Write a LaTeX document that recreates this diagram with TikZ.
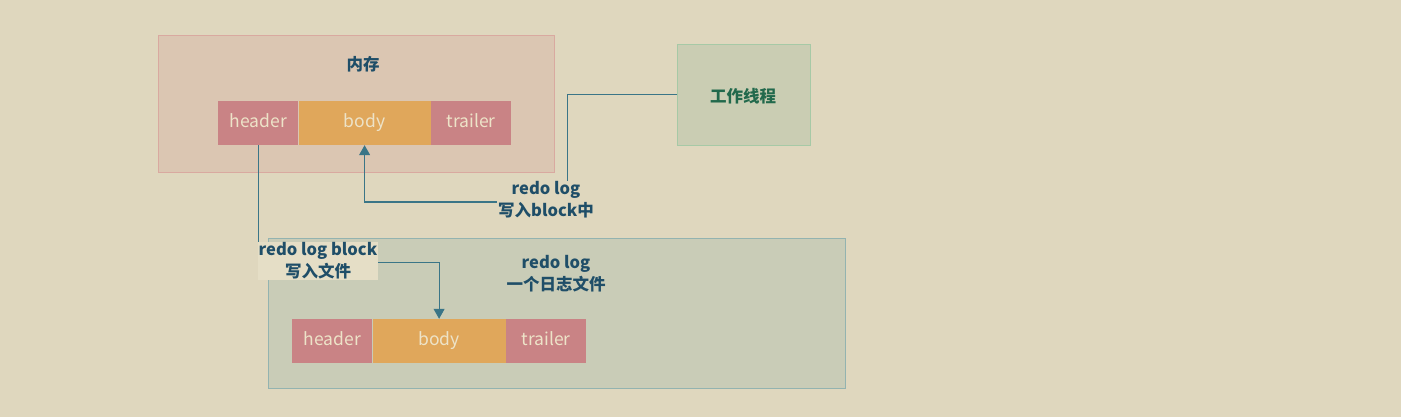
\documentclass[tikz,border=0pt]{standalone}
\usepackage{fontspec}
\setmainfont{Noto Sans CJK SC}
\usetikzlibrary{positioning,arrows.meta}
\definecolor{paper}{HTML}{DFD7BE}
\definecolor{paperlight}{HTML}{E5DEC6}
\definecolor{memfill}{HTML}{DBC6B2}
\definecolor{memedge}{HTML}{D9A9A0}
\definecolor{headfill}{HTML}{C98385}
\definecolor{bodyfill}{HTML}{E0A75B}
\definecolor{parttext}{HTML}{EDE3C8}
\definecolor{threadfill}{HTML}{CACDB3}
\definecolor{threadedge}{HTML}{A6C9A6}
\definecolor{threadtext}{HTML}{22694C}
\definecolor{filefill}{HTML}{C9CCB7}
\definecolor{fileedge}{HTML}{93B3B0}
\definecolor{inkblue}{HTML}{1F4E68}
\definecolor{wire}{HTML}{3A7587}
\begin{document}
\begin{tikzpicture}[x=1pt,y=-1pt,
    region/.style ={draw, line width=1pt, anchor=north west, inner sep=0pt},
    part/.style ={minimum width=80pt, minimum height=44pt, inner sep=0pt,
                  text height=12pt, text depth=3pt,
                  anchor=west, text=parttext, font=\fontsize{17.5}{20}\selectfont},
    caption/.style ={text=inkblue, align=center, inner sep=1pt,
                  font=\bfseries\fontsize{16.5}{22}\selectfont},
    link/.style ={draw=wire, line width=1pt, -{Triangle[width=11pt,length=10pt]}},
    wireline/.style ={draw=wire, line width=1pt}]
   \useasboundingbox[fill=paper] (0,0) rectangle (1401,417);

   % boxes
   \node[region, fill=memfill, draw=memedge, minimum width=396pt, minimum height=137pt] (mem) at (158,35) {};
   \node[region, fill=threadfill, draw=threadedge, minimum width=133pt, minimum height=101pt] (thread) at (677,44) {};
   \node[region, fill=filefill, draw=fileedge, minimum width=577pt, minimum height=150pt] (file) at (268,238) {};

   \node[caption] (memtitle) at (363,64) {内存};
   \node[caption, text=threadtext] (threadtitle) at (743,96) {工作线程};
   \node[caption] (filetitle) at (556,274) {redo log\\一个日志文件};

   % block in memory
   \node[part, fill=headfill] (uphead) at (218,123) {header};
   \node[part, fill=bodyfill, minimum width=132pt] (upbody) [right=0pt of uphead] {body};
   \node[part, fill=headfill] (uptrail) [right=0pt of upbody] {trailer};

   % block in file
   \node[part, fill=headfill] (lowhead) at (292,341) {header};
   \node[part, fill=bodyfill, minimum width=133pt] (lowbody) [right=0pt of lowhead] {body};
   \node[part, fill=headfill] (lowtrail) [right=0pt of lowbody] {trailer};

   % connectors
   \coordinate (turn1) at (567,202);
   \coordinate (turn2) at (300,262);
   \draw[wireline] (thread.west) -| (turn1);
   \draw[link] (turn1) -| (upbody.south);
   \draw[link] (uphead.south) |- (turn2) -| (lowbody.north);

   \node[caption, fill=paper] (writeblock) at (546,200) {redo log\\写入block中};
   \node[caption, fill=paperlight] (writefile) at (318,261) {redo log block\\写入文件};
 \end{tikzpicture}
\end{document}
